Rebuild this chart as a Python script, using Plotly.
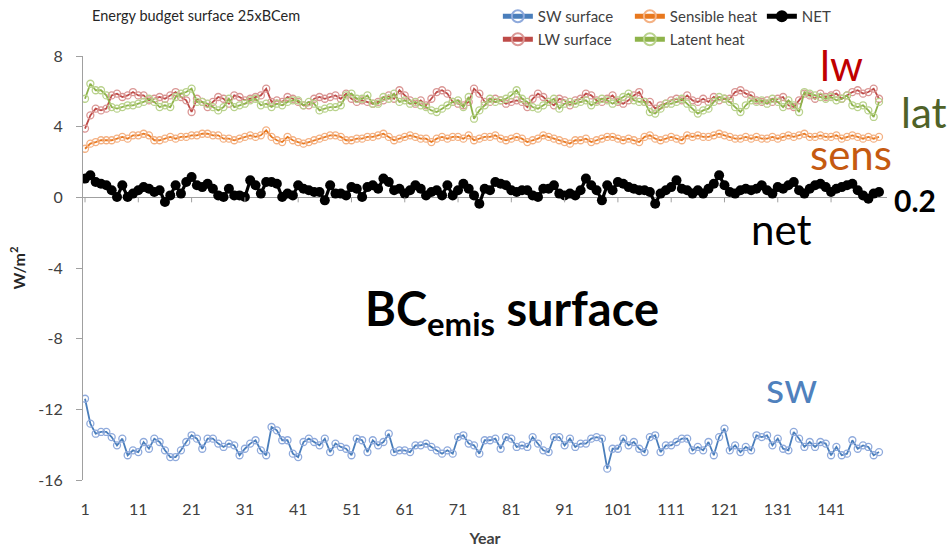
import plotly.graph_objects as go

years = list(range(1, 151))

sw_surface = [
    -11.40, -12.81, -13.38, -13.28, -13.28, -13.57, -14.04, -13.66, -14.60, -14.32,
    -14.42, -13.85, -14.23, -13.66, -13.85, -14.32, -14.70, -14.70, -14.32, -13.85,
    -13.47, -13.66, -14.23, -13.66, -13.66, -13.94, -14.13, -13.94, -14.04, -14.60,
    -14.23, -13.94, -13.75, -14.32, -14.60, -13.00, -13.19, -13.75, -13.75, -14.51,
    -14.70, -13.85, -13.66, -13.85, -14.04, -13.66, -14.42, -13.94, -14.13, -14.23,
    -14.60, -13.66, -13.75, -14.42, -13.75, -14.04, -13.85, -13.38, -14.42, -14.32,
    -14.32, -14.42, -14.04, -14.04, -13.94, -14.13, -14.32, -14.51, -14.32, -14.51,
    -13.57, -13.47, -13.94, -14.04, -14.51, -13.75, -13.75, -13.66, -14.23, -13.57,
    -13.66, -14.13, -14.04, -14.13, -13.57, -13.94, -14.32, -14.42, -13.57, -13.57,
    -14.04, -13.66, -14.13, -13.94, -13.94, -13.66, -13.57, -13.66, -15.36, -14.23,
    -14.23, -13.66, -14.04, -13.85, -14.23, -14.42, -13.57, -13.47, -14.42, -14.04,
    -14.04, -13.85, -13.66, -13.66, -14.32, -14.13, -14.32, -13.85, -14.60, -13.57,
    -13.09, -14.32, -14.04, -14.42, -14.13, -14.32, -13.47, -13.57, -13.47, -14.04,
    -13.66, -14.23, -14.32, -13.28, -13.66, -14.13, -13.85, -14.13, -13.85, -13.94,
    -14.60, -14.13, -14.60, -14.51, -13.75, -14.23, -14.04, -14.13, -14.60, -14.42,
]

lw_surface = [
    3.89, 4.64, 5.02, 4.92, 5.02, 5.77, 5.87, 5.68, 5.77, 5.96,
    5.77, 5.77, 5.49, 5.58, 5.68, 5.58, 5.77, 5.96, 5.68, 5.49,
    4.83, 5.58, 5.40, 5.11, 5.40, 5.68, 5.58, 5.30, 5.77, 5.68,
    5.49, 5.58, 5.68, 5.77, 6.15, 5.40, 5.49, 5.40, 5.68, 5.58,
    5.40, 5.21, 5.21, 5.58, 5.68, 5.58, 5.68, 5.77, 5.58, 5.87,
    5.58, 5.40, 5.49, 5.40, 5.30, 5.40, 5.49, 5.77, 5.58, 6.06,
    5.77, 5.49, 5.30, 5.49, 5.21, 5.58, 5.96, 6.06, 5.87, 5.40,
    5.30, 5.21, 5.40, 6.15, 5.87, 5.40, 5.40, 5.58, 5.49, 5.30,
    5.40, 5.49, 5.40, 5.11, 5.58, 5.87, 5.68, 5.40, 5.21, 5.58,
    5.49, 5.21, 5.49, 5.58, 5.87, 5.77, 5.49, 5.40, 5.58, 5.77,
    5.40, 5.30, 5.49, 5.77, 5.96, 5.40, 5.40, 5.02, 5.21, 5.30,
    5.49, 5.58, 5.49, 5.77, 5.49, 5.40, 5.58, 5.40, 5.68, 5.49,
    5.58, 5.58, 5.96, 6.06, 5.87, 5.77, 5.49, 5.40, 5.49, 5.40,
    5.58, 5.68, 5.21, 5.11, 5.49, 5.87, 5.77, 5.58, 5.87, 5.68,
    5.77, 5.87, 5.58, 5.77, 5.96, 6.06, 5.87, 5.96, 6.15, 5.58,
]

sensible_heat = [
    2.75, 3.04, 3.13, 3.23, 3.23, 3.23, 3.32, 3.42, 3.32, 3.51,
    3.51, 3.60, 3.51, 3.23, 3.23, 3.32, 3.42, 3.32, 3.42, 3.42,
    3.51, 3.51, 3.60, 3.60, 3.51, 3.51, 3.32, 3.32, 3.23, 3.32,
    3.42, 3.51, 3.42, 3.51, 3.79, 3.42, 3.23, 3.13, 3.42, 3.23,
    3.13, 3.04, 3.13, 3.23, 3.32, 3.42, 3.51, 3.51, 3.42, 3.23,
    3.23, 3.32, 3.32, 3.42, 3.42, 3.51, 3.60, 3.42, 3.23, 3.32,
    3.42, 3.51, 3.42, 3.32, 3.32, 3.13, 3.32, 3.42, 3.32, 3.42,
    3.42, 3.32, 3.51, 3.23, 3.32, 3.42, 3.42, 3.51, 3.32, 3.23,
    3.32, 3.42, 3.32, 3.13, 3.23, 3.32, 3.51, 3.42, 3.32, 3.23,
    3.13, 3.04, 3.23, 3.23, 3.32, 3.13, 3.23, 3.32, 3.42, 3.42,
    3.32, 3.23, 3.32, 3.23, 3.13, 3.42, 3.51, 3.32, 3.23, 3.32,
    3.42, 3.32, 3.23, 3.51, 3.42, 3.51, 3.42, 3.42, 3.51, 3.60,
    3.51, 3.42, 3.32, 3.32, 3.42, 3.32, 3.42, 3.32, 3.32, 3.42,
    3.32, 3.42, 3.51, 3.42, 3.51, 3.60, 3.42, 3.42, 3.51, 3.42,
    3.42, 3.51, 3.32, 3.42, 3.51, 3.42, 3.32, 3.42, 3.32, 3.42,
]

latent_heat = [
    5.58, 6.43, 6.06, 6.06, 5.77, 5.11, 5.02, 5.11, 5.21, 5.21,
    5.30, 5.40, 5.58, 5.40, 5.11, 5.21, 5.11, 5.68, 5.87, 5.96,
    6.15, 5.40, 5.40, 5.30, 5.11, 4.92, 5.11, 5.58, 5.11, 5.21,
    5.30, 5.49, 5.58, 5.21, 5.30, 5.11, 5.30, 5.21, 5.40, 5.49,
    5.49, 5.21, 5.40, 5.30, 4.92, 5.02, 5.11, 5.11, 5.21, 5.77,
    5.87, 5.58, 5.58, 5.77, 5.30, 5.30, 5.68, 5.58, 5.87, 5.40,
    5.49, 5.30, 5.40, 5.21, 5.11, 4.92, 4.83, 5.02, 5.21, 5.40,
    5.49, 5.11, 5.68, 4.45, 4.92, 5.21, 5.58, 5.40, 5.49, 5.58,
    5.77, 6.06, 5.58, 5.40, 5.11, 5.02, 5.21, 5.40, 5.58, 5.02,
    5.30, 5.40, 5.30, 5.40, 5.49, 5.21, 5.40, 5.58, 5.49, 5.30,
    5.49, 5.68, 5.87, 5.49, 5.40, 5.40, 4.83, 4.74, 5.02, 5.30,
    5.30, 5.40, 5.58, 5.30, 5.02, 4.74, 4.92, 5.02, 5.40, 5.68,
    5.58, 5.40, 5.11, 4.83, 5.21, 5.49, 5.40, 5.49, 5.30, 5.58,
    5.40, 5.11, 5.49, 5.21, 4.83, 5.96, 5.87, 5.77, 5.68, 5.58,
    5.68, 5.49, 5.58, 5.77, 5.21, 5.11, 5.21, 4.92, 4.55, 5.40,
]

net = [
    1.06, 1.25, 0.87, 0.77, 0.68, 0.40, 0.02, 0.68, 0.02, 0.21,
    0.40, 0.58, 0.49, 0.30, 0.40, -0.26, 0.11, 0.68, 0.21, 0.87,
    1.15, 0.68, 0.58, 0.77, 0.49, 0.11, 0.02, 0.49, 0.11, 0.11,
    0.02, 0.96, 0.68, 0.21, 0.87, 0.87, 0.77, 0.02, 0.21, 0.11,
    0.68, 0.49, 0.40, 0.30, 0.30, -0.17, 0.68, 0.21, 0.21, 0.11,
    0.58, 0.49, 0.02, 0.58, 0.68, 0.49, 1.06, 0.87, 0.40, 0.49,
    0.21, 0.40, 0.68, 0.49, 0.11, 0.30, 0.40, 0.11, 0.68, 0.11,
    0.40, 0.77, 0.49, 0.11, -0.36, 0.49, 0.40, 0.87, 0.77, 0.68,
    0.40, 0.30, 0.40, 0.40, 0.11, 0.02, 0.49, 0.49, 0.68, 0.21,
    0.11, 0.21, 0.11, 0.40, 1.06, 0.68, 0.40, -0.17, 0.68, 0.40,
    0.87, 0.77, 0.58, 0.49, 0.40, 0.40, 0.30, -0.36, 0.21, 0.40,
    0.58, 0.96, 0.49, 0.40, 0.21, 0.40, 0.21, 0.49, 0.77, 1.25,
    0.68, 0.30, 0.21, 0.40, 0.49, 0.40, 0.49, 0.68, 0.40, 0.21,
    0.58, 0.49, 0.68, 0.87, 0.40, 0.21, 0.49, 0.68, 0.77, 0.58,
    0.30, 0.49, 0.58, 0.68, 0.77, 0.40, 0.11, -0.08, 0.21, 0.30,
]

x_ticks = list(range(1, 150, 10))
x_ticklabels = [str(t) for t in x_ticks]
y_ticks = [8, 4, 0, -4, -8, -12, -16]
y_ticklabels = [str(t) for t in y_ticks]

FONT = "Lato, 'Open Sans', sans-serif"

fig = go.Figure()

def add_series(name, y, line_color, marker_color, legend, rank, filled=False):
    if filled:
        marker = dict(symbol="circle", size=10, color=line_color)
        lw = 3.2
    else:
        marker = dict(symbol="circle-open", size=7, color=marker_color,
                      line=dict(width=1.3, color=marker_color))
        lw = 1.8
    fig.add_trace(go.Scatter(
        x=years, y=y, name=name, mode="lines+markers",
        line=dict(color=line_color, width=lw), marker=marker,
        legend=legend, legendrank=rank,
    ))

add_series("SW surface", sw_surface, "#4A7EBB", "#8FAADC", "legend", 1)
add_series("LW surface", lw_surface, "#BE4B48", "#DA9694", "legend2", 1)
add_series("Sensible heat", sensible_heat, "#E8781E", "#F4B183", "legend", 2)
add_series("Latent heat", latent_heat, "#8EB34A", "#B9D28C", "legend2", 2)
add_series("NET", net, "#000000", "#000000", "legend", 3, filled=True)

# small tick marks hanging below the zero line
shapes = [
    dict(type="line", xref="x", yref="y", x0=t, x1=t, ysizemode="pixel",
         yanchor=0, y0=0, y1=-5, line=dict(color="#A0A0A0", width=1))
    for t in x_ticks
]

big = 42
annotations = [
    dict(text="lw", x=0.943, y=0.979, font=dict(size=big, color="#C00000")),
    dict(text="lat", x=1.046, y=0.868, font=dict(size=big, color="#4F6228")),
    dict(text="sens", x=0.955, y=0.769, font=dict(size=big, color="#C55A11")),
    dict(text="<b>0.2</b>", x=1.035, y=0.660, font=dict(size=30, color="#000000")),
    dict(text="net", x=0.869, y=0.592, font=dict(size=big, color="#000000")),
    dict(text="<b>BC<sub>emis</sub> surface</b>", x=0.534, y=0.397,
         font=dict(size=47, color="#000000")),
    dict(text="sw", x=0.881, y=0.219, font=dict(size=big, color="#4F81BD")),
]
for a in annotations:
    a.update(xref="paper", yref="paper", showarrow=False,
             xanchor="center", yanchor="middle")
    a["font"]["family"] = FONT

legend_common = dict(
    orientation="h", xanchor="left", yanchor="top",
    xref="paper", yref="container",
    font=dict(family=FONT, size=15, color="#404040"),
    bgcolor="rgba(0,0,0,0)", itemwidth=30, entrywidth=87,
    tracegroupgap=0, itemsizing="constant",
)

fig.update_layout(
    width=952, height=550,
    margin=dict(l=83, r=65, t=56, b=70, autoexpand=False),
    paper_bgcolor="white", plot_bgcolor="white",
    font=dict(family=FONT, color="#404040"),
    title=dict(text="Energy budget surface 25xBCem", x=92 / 952, y=1 - 16 / 550,
               xref="container", yref="container", xanchor="left", yanchor="middle",
               font=dict(family=FONT, size=14.5, color="#262626")),
    xaxis=dict(
        range=[0.62, 151.5], tickmode="array", tickvals=x_ticks, ticktext=x_ticklabels,
        showgrid=False, zeroline=False, showline=False, ticks="", automargin=False,
        ticklabelstandoff=18, tickfont=dict(family=FONT, size=16, color="#404040"),
        title=dict(text="<b>Year</b>", standoff=15,
                   font=dict(family=FONT, size=16, color="#404040")),
    ),
    yaxis=dict(
        range=[-16, 8], tickmode="array", tickvals=y_ticks, ticktext=y_ticklabels,
        showgrid=False, zeroline=True, zerolinecolor="#A0A0A0", zerolinewidth=1,
        showline=True, linecolor="#A0A0A0", linewidth=1, automargin=False,
        ticks="outside", ticklen=6, tickcolor="#A0A0A0",
        ticklabelstandoff=10, tickfont=dict(family=FONT, size=16, color="#404040"),
        title=dict(text="<b>W/m<sup>2</sup></b>", standoff=8,
                   font=dict(family=FONT, size=16, color="#262626")),
    ),
    legend=dict(x=0.516, y=1.0, **legend_common),
    legend2=dict(x=0.516, y=1 - 23 / 550, **legend_common),
    shapes=shapes,
    annotations=annotations,
)

fig.write_html("out.html", config={"displayModeBar": False},
               post_script="document.body.style.margin='0';")
